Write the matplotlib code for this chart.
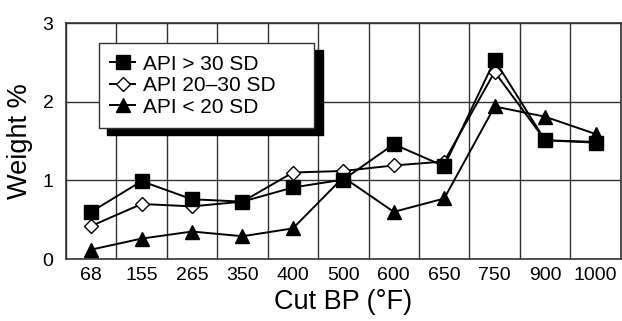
import matplotlib
matplotlib.use("Agg")
import matplotlib.pyplot as plt
import numpy as np

plt.rcParams['font.family'] = ['Liberation Sans', 'DejaVu Sans']

cuts = ['68', '155', '265', '350', '400', '500', '600', '650', '750', '900', '1000']
api_high = [0.60, 0.99, 0.76, 0.73, 0.91, 1.01, 1.46, 1.18, 2.53, 1.51, 1.48]
api_mid = [0.42, 0.70, 0.67, 0.73, 1.10, 1.12, 1.19, 1.24, 2.38, 1.51, 1.49]
api_low = [0.12, 0.26, 0.35, 0.29, 0.39, 1.04, 0.60, 0.77, 1.94, 1.81, 1.59]

fig = plt.figure(figsize=(6.22, 3.21), dpi=100)
ax = fig.add_axes([0.106, 0.193, 0.892, 0.735])

x = np.arange(len(cuts))
ax.plot(x, api_high, color='black', lw=1.4, marker='s', ms=10, mfc='black', mec='black',
        label='API > 30 SD', zorder=5)
ax.plot(x, api_mid, color='black', lw=1.4, marker='D', ms=7, mfc='white', mec='black',
        label='API 20\u201330 SD', zorder=4)
ax.plot(x, api_low, color='black', lw=1.4, marker='^', ms=10, mfc='black', mec='black',
        label='API < 20 SD', zorder=3)

ax.set_xlim(-0.5, len(cuts) - 0.5)
ax.set_ylim(0, 3)
ax.set_yticks([0, 1, 2, 3])
ax.set_xticks(x)
ax.set_xticklabels(cuts)
ax.set_xticks(np.arange(len(cuts) + 1) - 0.5, minor=True)
ax.tick_params(axis='both', which='both', length=0, labelsize=14)
ax.tick_params(axis='y', pad=9)
ax.tick_params(axis='x', pad=6)
ax.grid(True, which='minor', axis='x', color='#333333', lw=1)
ax.grid(True, which='major', axis='y', color='#333333', lw=1)
ax.set_axisbelow(True)
for s in ax.spines.values():
    s.set_color('#333333')
    s.set_linewidth(1.2)

ax.set_xlabel('Cut BP (\u00b0F)', fontsize=19.5, labelpad=3)
ax.set_ylabel('Weight %', fontsize=19.5, labelpad=7)

leg = ax.legend(loc='upper left', bbox_to_anchor=(0.059, 0.4, 0.389, 0.515), mode='expand',
                fontsize=15, frameon=True, fancybox=False, edgecolor='#333333', framealpha=1,
                shadow={'ox': 6, 'oy': -5, 'color': 'black', 'alpha': 1},
                handlelength=1.2, handletextpad=0.4, labelspacing=0.12,
                borderpad=0.55, borderaxespad=0)
leg.get_frame().set_linewidth(1)
leg.set_zorder(10)

fig.savefig('out.png', dpi=100)
